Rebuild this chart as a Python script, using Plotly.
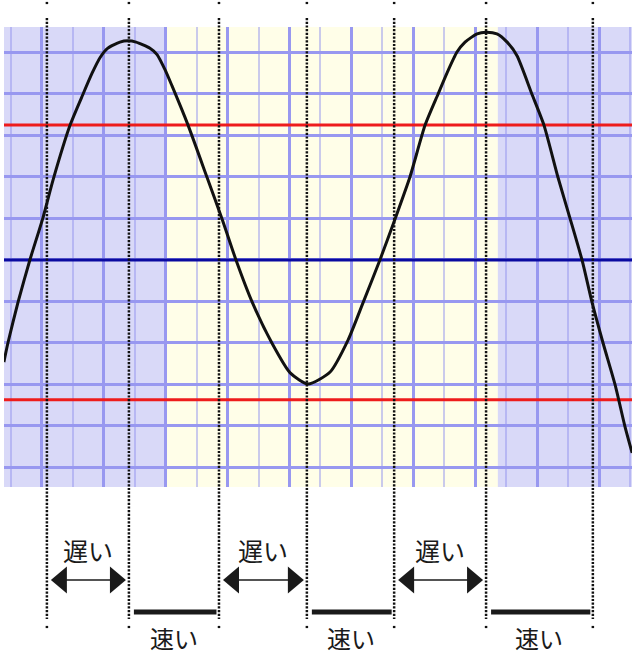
import plotly.graph_objects as go

# ---------------- data (grid units: 1 = one grid cell) ----------------
wave_x = [-0.23, -0.10, 0.23, 0.61, 1.03, 1.36, 1.91, 2.33, 2.62, 2.88,
          3.12, 3.52, 3.78, 4.04, 4.49, 4.72, 4.98, 5.20, 5.72, 6.33,
          6.82, 7.27, 7.79, 8.43, 9.02, 9.60, 10.31, 10.89, 11.37, 11.92,
          12.41, 12.89, 13.38, 13.80, 14.09, 14.41, 14.67, 15.06, 15.35, 15.70,
          16.03, 16.35, 16.83, 17.22, 17.67, 18.06, 18.45, 18.77, 19.13, 19.52,
          19.84, 20.07]
wave_y = [-2.46, -2.00, -1.01, 0.00, 1.01, 1.93, 3.25, 4.00, 4.50, 4.88,
          5.10, 5.25, 5.28, 5.25, 5.10, 4.95, 4.58, 4.20, 3.25, 2.00,
          0.99, 0.00, -1.01, -2.00, -2.72, -2.99, -2.70, -1.93, -1.04, 0.00,
          0.99, 2.00, 3.25, 4.00, 4.51, 5.01, 5.25, 5.45, 5.49, 5.45,
          5.25, 4.92, 4.00, 3.25, 2.00, 1.01, 0.00, -1.01, -2.00, -3.01,
          -4.02, -4.65]

threshold_levels = [3.25, -3.37]
center_level = 0.0
marker_x = [1.16, 3.81, 6.72, 9.56, 12.38, 15.35, 18.80]
band_x = [5.04, 15.73]

slow_label = "遅い"
fast_label = "速い"
slow_spans = [(0, 1), (2, 3), (4, 5)]
fast_spans = [(1, 2), (3, 4), (5, 6)]

# ---------------- layout constants ----------------
W, H = 635, 657
ML, MR, MT, MB = 4, 3, 27, 170
X_RANGE = [-0.226, 20.065]
Y_RANGE = [-5.470, 5.614]
PLOT_H = H - MT - MB
PX_PER_X = (W - ML - MR) / (X_RANGE[1] - X_RANGE[0])


def paper_y(ypx):
    return (H - MB - ypx) / PLOT_H


def dx(px):
    return px / PX_PER_X


LAVENDER = "#d9d9f8"
YELLOW = "#fffee8"
GRID_STRONG = "#9898f0"
GRID_FAINT = "rgba(150,150,238,0.5)"
RED = "#ee1c1c"
BLUE = "#0a0aa0"
INK = "#1a1a1a"
FONT = "Noto Sans CJK JP"

fig = go.Figure()
# horizontal reference levels
for lv in threshold_levels:
    fig.add_trace(go.Scatter(x=X_RANGE, y=[lv, lv], mode="lines",
                             line=dict(color=RED, width=3),
                             hoverinfo="skip", showlegend=False))
fig.add_trace(go.Scatter(x=X_RANGE, y=[center_level, center_level], mode="lines",
                         line=dict(color=BLUE, width=3),
                         hoverinfo="skip", showlegend=False))
# waveform
fig.add_trace(go.Scatter(
    x=wave_x, y=wave_y, mode="lines",
    line=dict(color="#111111", width=3, shape="spline", smoothing=0.6),
    hoverinfo="skip", showlegend=False,
))

shapes = []
# yellow band
shapes.append(dict(type="rect", xref="x", yref="paper", x0=band_x[0], x1=band_x[1],
                   y0=0, y1=1, fillcolor=YELLOW, line=dict(width=0), layer="below"))
# dotted markers
for mx in marker_x:
    shapes.append(dict(type="line", xref="x", yref="paper", x0=mx, x1=mx,
                       y0=paper_y(18), y1=paper_y(619),
                       line=dict(color="#111111", width=2.5, dash="2.2px,1.5px"),
                       layer="above"))
    for yy in (3, 627):
        shapes.append(dict(type="line", xref="x", yref="paper", x0=mx, x1=mx,
                           y0=paper_y(yy - 1.1), y1=paper_y(yy + 1.1),
                           line=dict(color="#111111", width=2.5), layer="above"))

# double arrows (slow)
ARROW_Y = 580
for a, b in slow_spans:
    xa, xb = marker_x[a], marker_x[b]
    shapes.append(dict(type="line", xref="x", yref="paper",
                       x0=xa + dx(10), x1=xb - dx(10),
                       y0=paper_y(ARROW_Y), y1=paper_y(ARROW_Y),
                       line=dict(color=INK, width=1.5), layer="above"))
    shapes.append(dict(type="path", xref="x", yref="paper",
                       xsizemode="pixel", ysizemode="pixel",
                       xanchor=xa, yanchor=paper_y(ARROW_Y),
                       path="M4,0 L20,13.5 L20,-13.5 Z",
                       fillcolor=INK, line=dict(width=0), layer="above"))
    shapes.append(dict(type="path", xref="x", yref="paper",
                       xsizemode="pixel", ysizemode="pixel",
                       xanchor=xb, yanchor=paper_y(ARROW_Y),
                       path="M-3,0 L-19,13.5 L-19,-13.5 Z",
                       fillcolor=INK, line=dict(width=0), layer="above"))

# bars (fast)
BAR_Y = 612
for a, b in fast_spans:
    shapes.append(dict(type="line", xref="x", yref="paper",
                       x0=marker_x[a] + dx(5), x1=marker_x[b] - dx(2.5),
                       y0=paper_y(BAR_Y), y1=paper_y(BAR_Y),
                       line=dict(color=INK, width=5), layer="above"))

annotations = []
for a, b in slow_spans:
    annotations.append(dict(x=(marker_x[a] + marker_x[b]) / 2, y=paper_y(550),
                            xref="x", yref="paper", text=slow_label, showarrow=False,
                            xanchor="center", yanchor="middle",
                            font=dict(family=FONT, size=25, color=INK)))
for a, b in fast_spans:
    annotations.append(dict(x=(marker_x[a] + marker_x[b]) / 2, y=paper_y(656.5),
                            xref="x", yref="paper", text=fast_label, showarrow=False,
                            xanchor="center", yanchor="bottom",
                            font=dict(family=FONT, size=24, color=INK)))

fig.update_layout(
    width=W, height=H,
    margin=dict(l=ML, r=MR, t=MT, b=MB, pad=0),
    paper_bgcolor="white", plot_bgcolor=LAVENDER,
    showlegend=False,
    shapes=shapes, annotations=annotations,
    xaxis=dict(range=X_RANGE, showticklabels=False, ticks="", zeroline=False,
               showline=False, showgrid=True, tick0=1, dtick=2,
               gridcolor=GRID_STRONG, gridwidth=3, fixedrange=True,
               minor=dict(tick0=0, dtick=1, showgrid=True, gridcolor=GRID_FAINT, gridwidth=2)),
    yaxis=dict(range=Y_RANGE, showticklabels=False, ticks="", zeroline=False,
               showline=False, showgrid=True, tick0=0, dtick=1,
               gridcolor=GRID_STRONG, gridwidth=3, fixedrange=True),
)

fig.write_html(
    "out.html",
    config={"displayModeBar": False},
    post_script="document.body.style.margin='0px';document.body.style.overflow='hidden';",
)
